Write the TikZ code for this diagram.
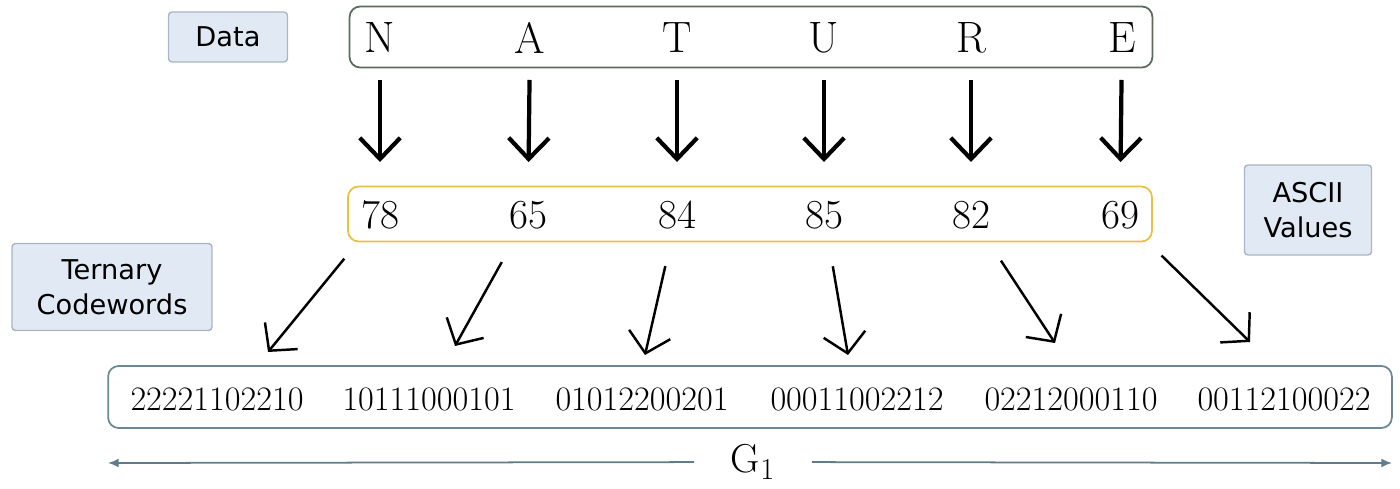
\documentclass[tikz,border=0pt]{standalone}
\usepackage{fontspec}
\usepackage{tikz}
\usetikzlibrary{arrows.meta}
\newfontfamily\tagfont{DejaVu Sans}
\definecolor{tagfill}{HTML}{E1EAF4}
\definecolor{tagdraw}{HTML}{A9B5C0}
\definecolor{boxgreen}{HTML}{5B6B5C}
\definecolor{boxyellow}{HTML}{E8C143}
\definecolor{boxblue}{HTML}{6C8796}
\definecolor{gline}{HTML}{5F7C88}

\begin{document}
\begin{tikzpicture}[x=0.02cm,y=-0.02cm,
  tag/.style={draw=tagdraw,fill=tagfill,line width=0.8pt,rounded corners=2pt,align=center,font=\tagfont\fontsize{15.5}{20}\selectfont},
  bigbox/.style={draw,rounded corners=6pt,line width=1pt},
  letter/.style={inner sep=0pt,font=\fontsize{25}{28}\selectfont},
  num/.style={inner sep=0pt,font=\fontsize{23.5}{28}\selectfont},
  code/.style={inner sep=0pt,font=\fontsize{19.5}{22}\selectfont},
  down/.style={line width=2.4pt,-{Straight Barb[length=12pt,width=23pt,line width=2.4pt]},shorten <=0.84cm,shorten >=1.06cm},
  slant/.style={line width=1.4pt,-{Straight Barb[length=11pt,width=24pt,line width=1.4pt]},shorten <=0.75cm}]

\useasboundingbox (0,0) rectangle (1400,489);

% boxes
\node[tag,minimum width=2.38cm,minimum height=1cm] (data) at (228,37) {Data};
\node[tag,minimum width=2.54cm,minimum height=1.8cm] (ascii) at (1308,210) {ASCII\\Values};
\node[tag,minimum width=4cm,minimum height=1.74cm] (ternary) at (112,287) {Ternary\\Codewords};

\node[bigbox,draw=boxgreen,minimum width=16.06cm,minimum height=1.22cm] (word) at (751,37) {};
\node[bigbox,draw=boxyellow,minimum width=16.08cm,minimum height=1.1cm] (values) at (750,214) {};
\node[bigbox,draw=boxblue,minimum width=25.68cm,minimum height=1.24cm] (codes) at (750,397) {};

% letters
\node[letter] (N) at (380,38) {N};
\node[letter] (A) at (530,38) {A};
\node[letter] (T) at (677,38) {T};
\node[letter] (U) at (824,38) {U};
\node[letter] (R) at (971,38) {R};
\node[letter] (E) at (1122,38) {E};

% ascii values
\node[num] (n78) at (380,215) {78};
\node[num] (n65) at (528,215) {65};
\node[num] (n84) at (677,215) {84};
\node[num] (n85) at (824,215) {85};
\node[num] (n82) at (971,215) {82};
\node[num] (n69) at (1120,215) {69};

% codewords
\node[code] (c1) at (217,399) {22221102210};
\node[code] (c2) at (429,399) {10111000101};
\node[code] (c3) at (642,399) {01012200201};
\node[code] (c4) at (857,399) {00011002212};
\node[code] (c5) at (1071,399) {02212000110};
\node[code] (c6) at (1284,399) {00112100022};

\coordinate (t1) at (268,352);
\coordinate (t2) at (455,346);
\coordinate (t3) at (645,355);
\coordinate (t4) at (848,355);
\coordinate (t5) at (1055,343);
\coordinate (t6) at (1250,342);

\draw[down] (N.center) -- (n78.center);
\draw[down] (A.center) -- (n65.center);
\draw[down] (T.center) -- (n84.center);
\draw[down] (U.center) -- (n85.center);
\draw[down] (R.center) -- (n82.center);
\draw[down] (E.center) -- (n69.center);

\draw[slant] (n78) -- (t1);
\draw[slant] (n65) -- (t2);
\draw[slant] (n84) -- (t3);
\draw[slant] (n85) -- (t4);
\draw[slant] (n82) -- (t5);
\draw[slant] (n69) -- (t6);

% length
\node[minimum width=2.34cm,inner sep=0pt,font=\fontsize{23}{26}\selectfont] (g1) at (753,462) {$\mathrm{G}_1$};
\coordinate (gl) at (108,463);
\coordinate (gr) at (1392,463);
\draw[gline,line width=1pt,-{Latex[length=6pt,width=5pt]}] (g1) -- (gl);
\draw[gline,line width=1pt,-{Latex[length=6pt,width=5pt]}] (g1) -- (gr);
\end{tikzpicture}
\end{document}
